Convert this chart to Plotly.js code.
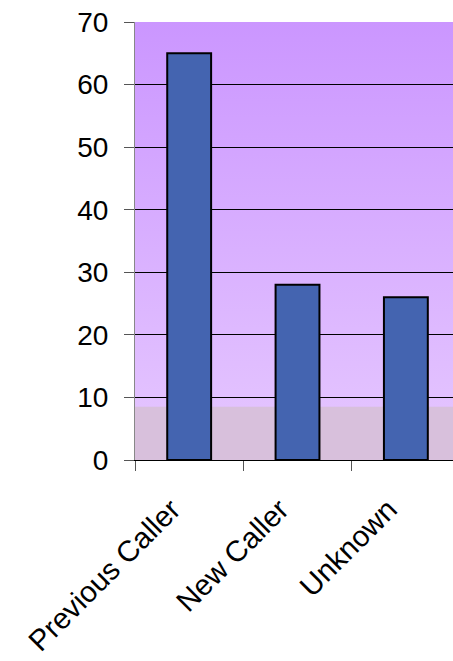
<!DOCTYPE html>
<html>
<head>
<meta charset="utf-8">
<script src="https://cdn.plot.ly/plotly-3.0.1.min.js"></script>
<style>html,body{margin:0;padding:0;background:#fff;}#chart{width:453px;height:661px;}</style>
</head>
<body>
<div id="chart"></div>
<script>
var categories = ["Previous Caller", "New Caller", "Unknown"];
var values = [65, 28, 26];
var yTicks = [0, 10, 20, 30, 40, 50, 60, 70];
var bandTop = 8.5;

var svg = '<svg xmlns="http://www.w3.org/2000/svg" width="100" height="100" preserveAspectRatio="none">' +
  '<defs><linearGradient id="g" x1="0" y1="0" x2="0" y2="1">' +
  '<stop offset="0" stop-color="#cb96ff"/><stop offset="1" stop-color="#e6c8ff"/>' +
  '</linearGradient></defs><rect width="100" height="100" fill="url(#g)"/></svg>';
var uri = 'data:image/svg+xml;base64,' + btoa(svg);

var trace = {
  type: 'bar',
  x: categories,
  y: values,
  width: 0.405,
  marker: {color: '#4464b0', line: {color: '#000000', width: 2}},
  hoverinfo: 'none'
};

var pad = '\u00a0\u00a0\u00a0';

var layout = {
  width: 453, height: 661,
  margin: {l: 135, r: 0, t: 22, b: 201, pad: 0},
  paper_bgcolor: '#ffffff',
  plot_bgcolor: 'rgba(0,0,0,0)',
  showlegend: false,
  font: {family: 'Liberation Sans, Arial, sans-serif', color: '#000'},
  xaxis: {
    type: 'category',
    range: [-0.5, 2.435],
    tickson: 'boundaries',
    tickvals: categories,
    ticktext: categories.map(function (c) { return c + pad; }),
    ticks: 'outside', ticklen: 10, tickwidth: 1, tickcolor: '#555',
    showgrid: false,
    showline: true, linecolor: '#000', linewidth: 1,
    tickangle: -45,
    ticklabelstandoff: 2,
    tickfont: {size: 29.5, color: '#000'},
    zeroline: false
  },
  yaxis: {
    range: [0, 70],
    tickvals: yTicks,
    ticktext: yTicks.map(String),
    ticks: 'outside', ticklen: 10, tickwidth: 1, tickcolor: '#555',
    ticklabelstandoff: 10,
    showgrid: true, gridcolor: '#000', gridwidth: 1,
    showline: true, linecolor: '#888', linewidth: 1,
    zeroline: false,
    tickfont: {size: 28, color: '#000'}
  },
  images: [{
    source: uri, xref: 'paper', yref: 'paper', x: 0, y: 1,
    sizex: 1, sizey: 1, sizing: 'stretch', layer: 'below',
    xanchor: 'left', yanchor: 'top'
  }],
  shapes: [{
    type: 'rect', xref: 'paper', yref: 'y', x0: 0, x1: 1, y0: 0, y1: bandTop,
    fillcolor: '#d8c0dc', line: {width: 0}, layer: 'below'
  }]
};

Plotly.newPlot('chart', [trace], layout, {staticPlot: true, displayModeBar: false});
</script>
</body>
</html>
